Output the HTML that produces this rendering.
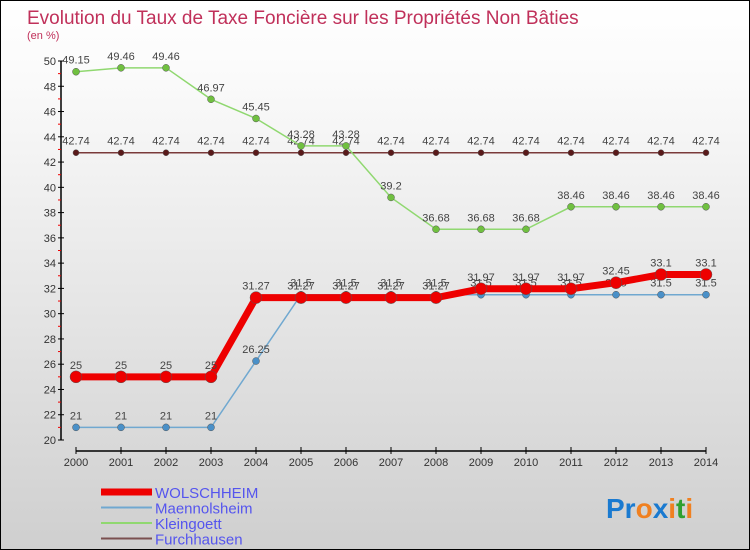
<!DOCTYPE html>
<html><head><meta charset="utf-8"><style>
body{margin:0}
#c{width:748px;height:548px;border:1px solid #000;background:linear-gradient(#fff,#fafafa 15%,#cfcfcf);position:relative;overflow:hidden;font-family:"Liberation Sans",sans-serif}
svg text{font-family:"Liberation Sans",sans-serif}
</style></head><body>
<div id="c">
<svg id="s" width="748" height="548">
<text x="26" y="23" font-size="19" fill="#c0305a">Evolution du Taux de Taxe Foncière sur les Propriétés Non Bâties</text>
<text x="26" y="38" font-size="11" fill="#c0305a">(en %)</text>
<g id="g"></g>
<text x="605" y="517" font-size="28" font-weight="bold" fill="#1a7ad0">Pr<tspan fill="#f08020">o</tspan><tspan fill="#1a7ad0">x</tspan><tspan fill="#f08020">i</tspan><tspan fill="#30a030">t</tspan><tspan fill="#f08020">i</tspan></text>
</svg></div>
<script>
const years=["2000","2001","2002","2003","2004","2005","2006","2007","2008","2009","2010","2011","2012","2013","2014"];
const wolschheim=[25,25,25,25,31.27,31.27,31.27,31.27,31.27,31.97,31.97,31.97,32.45,33.1,33.1];
const maennolsheim=[21,21,21,21,26.25,31.5,31.5,31.5,31.5,31.5,31.5,31.5,31.5,31.5,31.5];
const kleingoett=[49.15,49.46,49.46,46.97,45.45,43.28,43.28,39.2,36.68,36.68,36.68,38.46,38.46,38.46,38.46];
const furchhausen=[42.74,42.74,42.74,42.74,42.74,42.74,42.74,42.74,42.74,42.74,42.74,42.74,42.74,42.74,42.74];
const yTicks=[20,22,24,26,28,30,32,34,36,38,40,42,44,46,48,50];
const NS="http://www.w3.org/2000/svg",g=document.getElementById('g');
const X=i=>75+i*(630/(years.length-1)), Y=v=>439-(v-20)*(379/30);
function el(t,a,p){const e=document.createElementNS(NS,t);for(const k in a)e.setAttribute(k,a[k]);(p||g).appendChild(e);return e;}
let e=el('line',{x1:60,y1:Y(50),x2:60,y2:Y(20),stroke:'#000','stroke-width':1.5});


e=el('line',{x1:75,y1:450,x2:705,y2:450,stroke:'#000','stroke-width':1.5});


yTicks.forEach(v=>{
 el('line',{x1:57,x2:63,y1:Y(v),y2:Y(v),stroke:'#000'});
 if(v<50)el('line',{x1:57,x2:60,y1:Y(v+1),y2:Y(v+1),stroke:'#e00'});
 const t=el('text',{x:55,y:Y(v)+4,'font-size':11,'text-anchor':'end',fill:'#333'});t.textContent=v;
 
 
});
years.forEach((y,i)=>{
 el('line',{x1:X(i),x2:X(i),y1:446,y2:453,stroke:'#000'});
 const t=el('text',{x:X(i),y:465,'font-size':11,'text-anchor':'middle',fill:'#333'});t.textContent=y;
 
 
});
function series(d,col,w,r,dot,name){
 const p=el('polyline',{points:d.map((v,i)=>X(i)+','+Y(v)).join(' '),fill:'none',stroke:col,'stroke-width':w});
 
 
 d.forEach((v,i)=>{
  const c=el('circle',{cx:X(i),cy:Y(v),r:r,fill:dot,stroke:'#555','stroke-width':0.5});
  
  
  const t=el('text',{x:X(i),y:Y(v)-8,'font-size':11,'text-anchor':'middle',fill:'#444'});t.textContent=v;
  
  
 });
}
series(furchhausen,'#7a3a3a',1.5,3,'#5a1a1a','furchhausen');
series(kleingoett,'#90d870',1.5,3.5,'#70c040','kleingoett');
series(maennolsheim,'#70a8d0',1.5,3.5,'#4a90c8','maennolsheim');
series(wolschheim,'#ee0000',7,6,'#ee0000','wolschheim');
const leg=[["WOLSCHHEIM","#ee0000",7],["Maennolsheim","#70a8d0",2],["Kleingoett","#90d870",2],["Furchhausen","#7a5050",2]];
leg.forEach((l,i)=>{
 const y=491+i*15.5;
 const a=el('line',{x1:100,x2:151,y1:y,y2:y,stroke:l[1],'stroke-width':l[2]});
 
 
 const t=el('text',{x:154,y:y+6,'font-size':15,fill:'#5555ee'});t.textContent=l[0];
 
 
});
</script>
</body></html>
